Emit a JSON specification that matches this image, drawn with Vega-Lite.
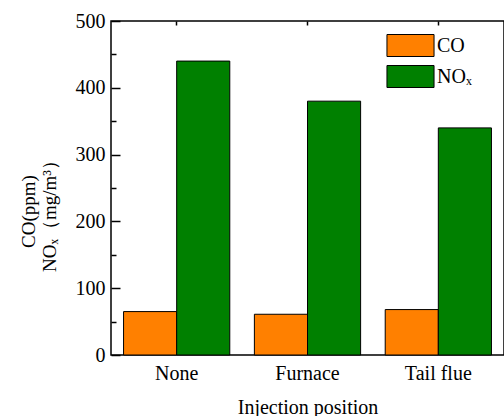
{
  "$schema": "https://vega.github.io/schema/vega-lite/v6.json",
  "width": 393,
  "height": 334,
  "autosize": "none",
  "padding": {"left": 111, "top": 21, "right": 0, "bottom": 61},
  "background": "white",
  "config": {
    "font": "Liberation Serif",
    "view": {"stroke": "#000", "strokeWidth": 1.5},
    "axis": {"grid": false, "labelColor": "#000", "titleColor": "#000", "tickColor": "#000", "labelFont": "Liberation Serif", "titleFont": "Liberation Serif", "titleFontWeight": "normal"},
    "legend": {"labelFont": "Liberation Serif", "labelColor": "#000"}
  },
  "data": {
    "values": [
      {"position": "None", "series": "CO", "value": 65},
      {"position": "None", "series": "NOx", "value": 440},
      {"position": "Furnace", "series": "CO", "value": 61},
      {"position": "Furnace", "series": "NOx", "value": 380},
      {"position": "Tail flue", "series": "CO", "value": 68},
      {"position": "Tail flue", "series": "NOx", "value": 340}
    ]
  },
  "layer": [
    {
      "mark": {"type": "bar", "stroke": "#000", "strokeWidth": 1},
      "encoding": {
        "x": {
          "field": "position", "type": "nominal", "sort": ["None", "Furnace", "Tail flue"],
          "scale": {"paddingInner": 0.188, "paddingOuter": 0.096},
          "axis": {"title": "Injection position", "labelAngle": 0, "ticks": false, "domain": false, "labelPadding": 8, "labelFontSize": 20, "titleFontSize": 20, "titleY": 58, "titleBaseline": "alphabetic"}
        },
        "xOffset": {"field": "series", "type": "nominal", "sort": ["CO", "NOx"], "scale": {"paddingInner": 0, "paddingOuter": 0}},
        "y": {
          "field": "value", "type": "quantitative",
          "scale": {"domain": [0, 500], "nice": false},
          "axis": {
            "values": [0, 100, 200, 300, 400, 500], "domain": false, "tickSize": -9, "tickWidth": 1.5,
            "labelPadding": 15, "labelFontSize": 20,
            "title": ["CO(ppm)", "NOₓ（mg/m³）"], "titleFontSize": 19, "titleLineHeight": 21,
            "titleX": -73, "titleY": 190, "titleAlign": "center", "titleBaseline": "bottom", "titleAngle": 270
          }
        },
        "color": {
          "field": "series", "type": "nominal",
          "scale": {"domain": ["CO", "NOx"], "range": ["#FF8000", "#008000"]},
          "legend": {
            "orient": "none", "legendX": 288, "legendY": 13, "title": null, "padding": 0,
            "symbolType": "M-2.14,-1H2.14V1H-2.14Z", "symbolSize": 484, "symbolStrokeColor": "#000", "symbolStrokeWidth": 1, "symbolOpacity": 1,
            "labelFontSize": 20, "labelOffset": 15, "rowPadding": 4,
            "labelExpr": "datum.label == 'NOx' ? 'NOₓ' : datum.label"
          }
        }
      }
    },
    {
      "mark": {"type": "bar", "opacity": 0},
      "encoding": {
        "x": {
          "field": "position", "type": "nominal", "sort": ["None", "Furnace", "Tail flue"],
          "axis": {"orient": "top", "labels": false, "title": null, "domain": false, "tickSize": -4, "tickWidth": 1.5}
        },
        "xOffset": {"field": "series", "type": "nominal", "sort": ["CO", "NOx"]},
        "y": {
          "field": "value", "type": "quantitative",
          "axis": {"orient": "left", "values": [50, 150, 250, 350, 450], "labels": false, "title": null, "domain": false, "tickSize": -5, "tickWidth": 1.5}
        }
      }
    }
  ],
  "resolve": {"axis": {"x": "independent", "y": "independent"}}
}
